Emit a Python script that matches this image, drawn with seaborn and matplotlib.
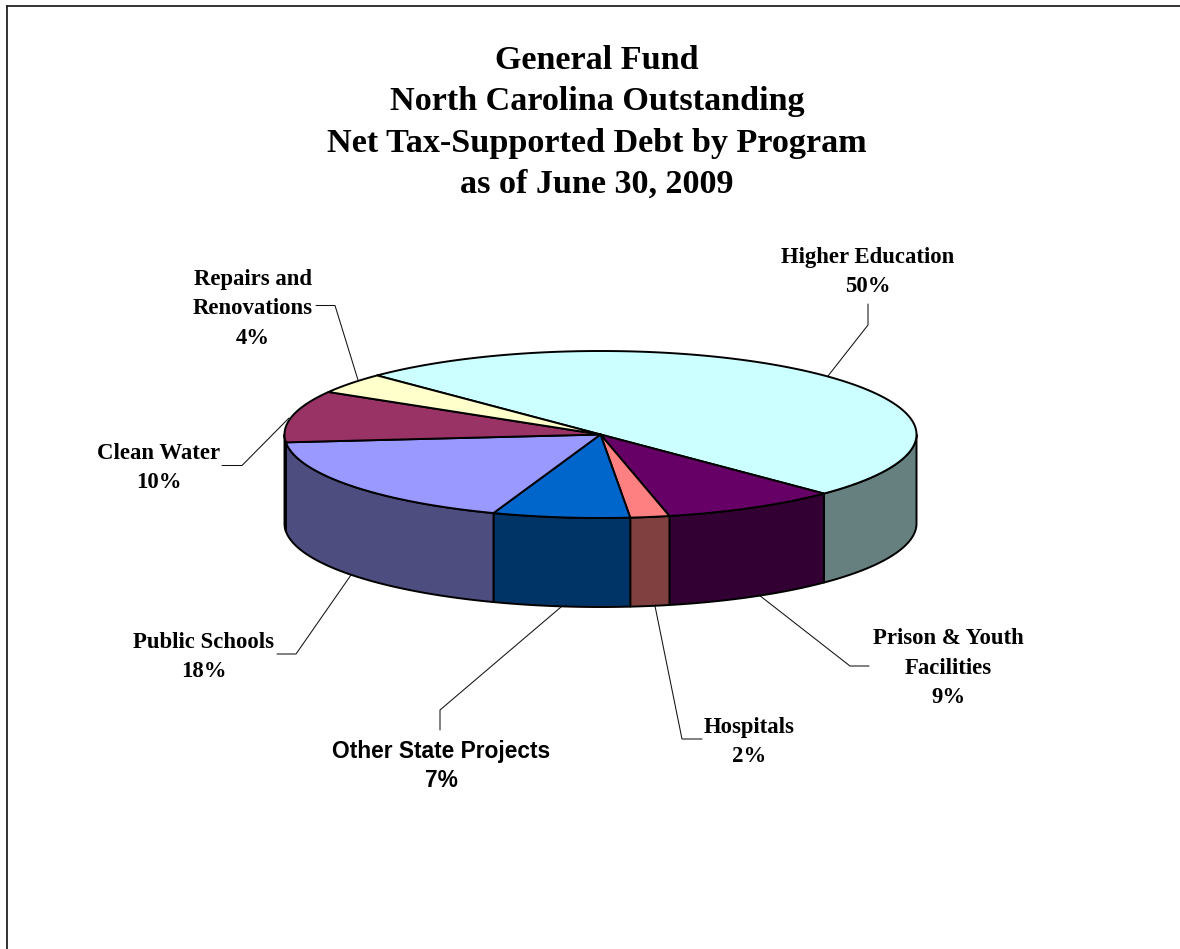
import numpy as np
import pandas as pd
import seaborn as sns
import matplotlib
matplotlib.use("Agg")
import matplotlib.pyplot as plt

# Program shares in percent, clockwise from the top of the pie
programs = ["Higher Education", "Prison & Youth Facilities", "Hospitals",
            "Other State Projects", "Public Schools", "Clean Water",
            "Repairs and Renovations"]
shares = [50, 9, 2, 7, 18, 10, 4]
top_colors = ["#CCFFFF", "#660066", "#FF8080", "#0066CC", "#9999FF", "#993366", "#FFFFCC"]
side_colors = ["#668080", "#330033", "#804040", "#003366", "#4D4D80", "#4D1A33", "#808066"]

title_lines = ["General Fund", "North Carolina Outstanding",
               "Net Tax-Supported Debt by Program", "as of June 30, 2009"]

# Label lines per program
label_lines = [["Higher Education"], ["Prison & Youth", "Facilities"], ["Hospitals"],
               ["Other State Projects"], ["Public Schools"], ["Clean Water"],
               ["Repairs and", "Renovations"]]

sns.set_theme(style="white", rc={"axes.edgecolor": "#222222", "axes.linewidth": 1.3})
plt.rcParams["font.family"] = ["Liberation Serif", "DejaVu Serif"]

df = pd.DataFrame({"program": programs, "share": shares})
top_pal = sns.color_palette(top_colors)
side_pal = sns.color_palette(side_colors)

fig = plt.figure(figsize=(11.8, 9.49), dpi=100)
L, T = 7.0, 6.0
ax = fig.add_axes([L / 1180, 0, 1 - L / 1180, 1 - T / 949])
ax.set_xlim(L, 1180)
ax.set_ylim(949, T)
ax.set_xticks([])
ax.set_yticks([])
ax.spines["right"].set_visible(False)
ax.spines["bottom"].set_visible(False)

# Tilted pie geometry, screen-space ellipse
CX, CY, RX, RY, DEPTH = 600.5, 434.5, 316.0, 83.5, 89.0
START_DEG = 225.0
EDGE_LW = 1.4


def rim(t0, t1, dy=0.0):
    t = np.radians(np.linspace(t0, t1, max(int(abs(t1 - t0)) * 3, 2) + 1))
    return CX + RX * np.cos(t), CY + dy + RY * np.sin(t)


sweeps = df["share"].to_numpy() / df["share"].sum() * 360.0
ends = START_DEG + np.cumsum(sweeps)
starts = ends - sweeps

# Outer wall: only the front half of the rim is visible
for a, b, col in zip(starts, ends, side_pal):
    for offset in (0.0, 360.0):
        lo, hi = max(a - offset, 0.0), min(b - offset, 180.0)
        if hi > lo:
            xu, yu = rim(lo, hi)
            xl, yl = rim(hi, lo, DEPTH)
            ax.fill(np.r_[xu, xl], np.r_[yu, yl], facecolor=col, edgecolor="black",
                    linewidth=EDGE_LW, joinstyle="round", zorder=2)

# Top face
for a, b, col in zip(starts, ends, top_pal):
    x, y = rim(a, b)
    ax.fill(np.r_[CX, x], np.r_[CY, y], facecolor=col, edgecolor="black",
            linewidth=EDGE_LW, joinstyle="round", zorder=3)

# Leader lines from labels to the pie
leaders = [
    [(868, 304), (868, 325), (828, 376)],
    [(869, 666), (850, 666), (759, 595)],
    [(702, 739), (682, 739), (655, 606)],
    [(440, 730), (440, 710), (561, 607)],
    [(277, 654), (296, 654), (351, 575)],
    [(222, 465.5), (242, 465.5), (289, 418)],
    [(316, 305.5), (335, 305.5), (358, 380)],
]
for path in leaders:
    px, py = zip(*path)
    ax.plot(px, py, color="#111111", lw=0.75, zorder=1, solid_joinstyle="miter")

# Title, centred line by line
for line, base in zip(title_lines, [69, 110, 152, 193]):
    ax.text(597, base, line, ha="center", va="baseline", fontsize=24.6,
            fontweight="bold", color="black", family="Liberation Serif")

# Slice labels: name lines followed by the percentage
anchors = [(868, 263), (948.5, 644.5), (749, 733), (441, 758), (203.5, 648), (159, 459), (253, 285)]
LINE_STEP = 29.5
for names, pct, (x, base) in zip(label_lines, df["share"], anchors):
    fam = "Liberation Sans" if names[0] == "Other State Projects" else "Liberation Serif"
    lines = names + [f"{pct}%"]
    for i, line in enumerate(lines):
        ax.text(x, base + i * LINE_STEP, line, ha="center", va="baseline", fontsize=16.4,
                fontweight="bold", color="black", family=fam)

fig.savefig("out.png", dpi=100, facecolor="white")
